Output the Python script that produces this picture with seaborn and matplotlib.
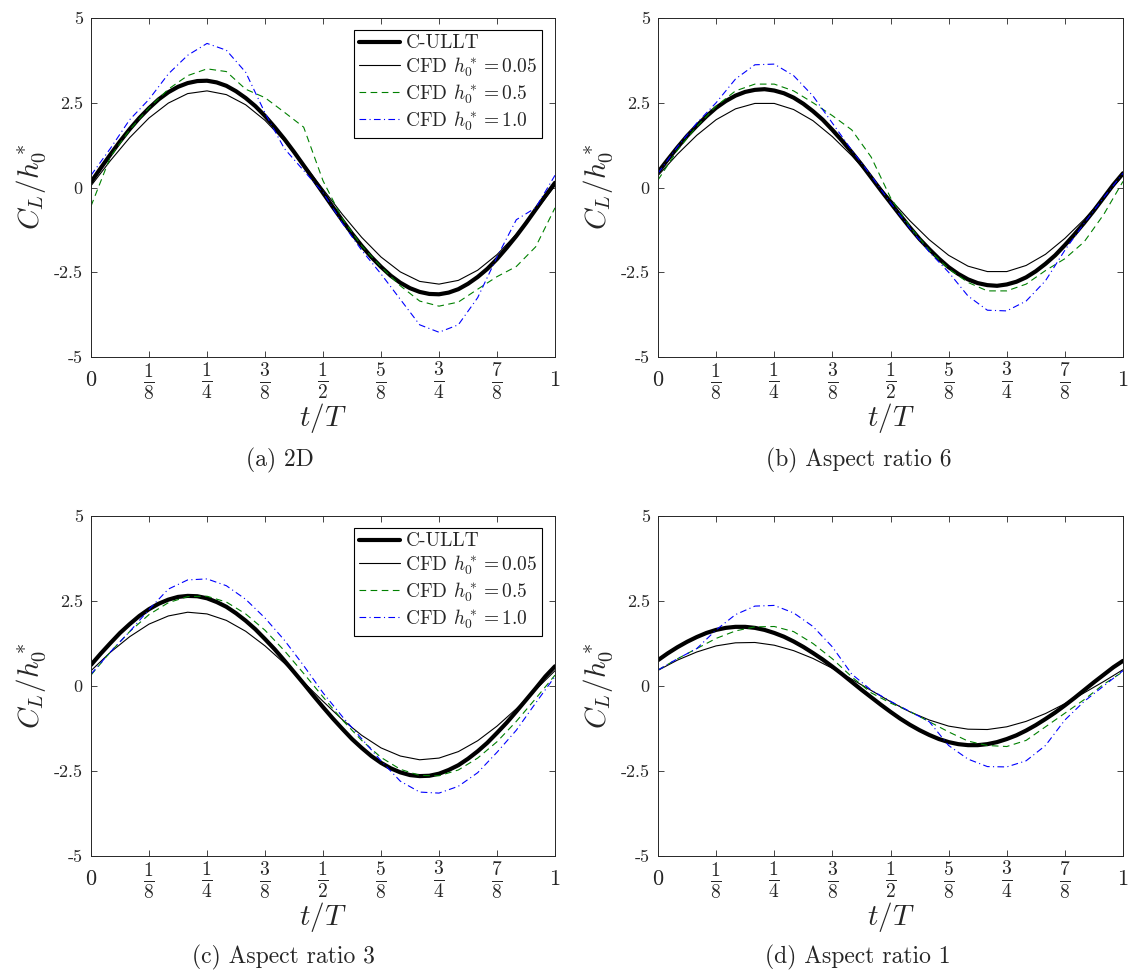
import numpy as np
import pandas as pd
import matplotlib
matplotlib.use("Agg")
import matplotlib.pyplot as plt
import seaborn as sns

# sample instants t/T: C-ULLT read every 1/48, CFD curves every 1/24
t_fine = np.linspace(0, 1, 49)
t_frac = np.linspace(0, 1, 25)

# (a) 2D
a_ullt = [0.16, 0.57, 0.97, 1.36, 1.72, 2.05, 2.34, 2.60, 2.81, 2.97, 3.08, 3.14, 3.15,
          3.10, 3.00, 2.84, 2.64, 2.40, 2.11, 1.78, 1.43, 1.05, 0.65, 0.25, -0.16,
          -0.57, -0.97, -1.36, -1.72, -2.05, -2.34, -2.60, -2.81, -2.97, -3.08, -3.14, -3.15,
          -3.10, -3.00, -2.84, -2.64, -2.40, -2.11, -1.78, -1.43, -1.05, -0.65, -0.25, 0.14]
a_h005 = [0.05, 0.79, 1.47, 2.05, 2.49, 2.77, 2.85, 2.74, 2.44, 1.98, 1.38, 0.69, -0.05,
          -0.79, -1.47, -2.05, -2.49, -2.77, -2.85, -2.74, -2.44, -1.98, -1.38, -0.69, 0.05]
a_h05 = [-0.55, 0.9, 1.7, 2.35, 2.9, 3.3, 3.5, 3.42, 2.9, 2.65, 2.22, 1.78, 0.2,
         -0.92, -1.72, -2.34, -2.9, -3.35, -3.5, -3.38, -3.0, -2.63, -2.33, -1.75, -0.6]
a_h10 = [0.36, 1.15, 2.0, 2.6, 3.35, 3.9, 4.25, 4.05, 3.4, 2.2, 1.15, 0.5, -0.15,
         -1.05, -1.85, -2.55, -3.3, -4.05, -4.27, -4.05, -3.25, -2.05, -0.95, -0.6, 0.36]

# (b) aspect ratio 6
b_ullt = [0.45, 0.82, 1.18, 1.52, 1.82, 2.10, 2.35, 2.55, 2.71, 2.82, 2.88, 2.90, 2.86,
          2.78, 2.65, 2.47, 2.25, 2.00, 1.70, 1.38, 1.04, 0.68, 0.30, -0.08, -0.45,
          -0.82, -1.18, -1.52, -1.82, -2.10, -2.35, -2.55, -2.71, -2.82, -2.88, -2.90, -2.86,
          -2.78, -2.65, -2.47, -2.25, -2.00, -1.70, -1.38, -1.04, -0.68, -0.30, 0.08, 0.42]
b_h005 = [0.35, 0.98, 1.54, 2.00, 2.32, 2.48, 2.48, 2.30, 1.97, 1.50, 0.94, 0.30, -0.35,
          -0.98, -1.54, -2.00, -2.32, -2.48, -2.48, -2.30, -1.97, -1.50, -0.94, -0.30, 0.35]
b_h05 = [0.22, 1.1, 1.8, 2.4, 2.85, 3.05, 3.05, 2.85, 2.5, 2.12, 1.7, 0.9, -0.3,
         -1.15, -1.85, -2.4, -2.8, -3.05, -3.05, -2.85, -2.45, -2.1, -1.6, -0.8, 0.18]
b_h10 = [0.42, 1.2, 1.9, 2.5, 3.2, 3.62, 3.64, 3.3, 2.7, 1.9, 1.1, 0.35, -0.45,
         -1.2, -1.9, -2.5, -3.2, -3.62, -3.64, -3.35, -2.75, -1.85, -1.05, -0.3, 0.42]

# (c) aspect ratio 3
c_ullt = [0.62, 0.95, 1.26, 1.56, 1.82, 2.06, 2.26, 2.42, 2.54, 2.62, 2.65, 2.64, 2.58,
          2.47, 2.33, 2.14, 1.92, 1.67, 1.38, 1.08, 0.75, 0.41, 0.07, -0.28, -0.62,
          -0.95, -1.26, -1.56, -1.82, -2.06, -2.26, -2.42, -2.54, -2.62, -2.65, -2.64, -2.58,
          -2.47, -2.33, -2.14, -1.92, -1.67, -1.38, -1.08, -0.75, -0.41, -0.07, 0.28, 0.58]
c_h005 = [0.45, 0.99, 1.45, 1.82, 2.06, 2.17, 2.12, 1.93, 1.61, 1.18, 0.67, 0.11, -0.45,
          -0.99, -1.45, -1.82, -2.06, -2.17, -2.12, -1.93, -1.61, -1.18, -0.67, -0.11, 0.45]
c_h05 = [0.32, 1.0, 1.60, 2.10, 2.45, 2.63, 2.64, 2.47, 2.12, 1.64, 1.04, 0.37, -0.32,
         -1.0, -1.60, -2.10, -2.45, -2.63, -2.64, -2.47, -2.12, -1.64, -1.04, -0.37, 0.32]
c_h10 = [0.35, 1.0, 1.6, 2.25, 2.85, 3.12, 3.15, 2.95, 2.55, 2.0, 1.35, 0.6, -0.2,
         -0.9, -1.55, -2.2, -2.8, -3.12, -3.15, -2.95, -2.55, -1.95, -1.3, -0.5, 0.28]

# (d) aspect ratio 1
d_ullt = [0.76, 0.96, 1.14, 1.30, 1.44, 1.56, 1.65, 1.71, 1.74, 1.74, 1.71, 1.65, 1.56,
          1.45, 1.31, 1.15, 0.97, 0.78, 0.57, 0.35, 0.12, -0.11, -0.33, -0.55, -0.76,
          -0.96, -1.14, -1.30, -1.44, -1.56, -1.65, -1.71, -1.74, -1.74, -1.71, -1.65, -1.56,
          -1.45, -1.31, -1.15, -0.97, -0.78, -0.57, -0.35, -0.12, 0.11, 0.33, 0.55, 0.74]
d_h005 = [0.46, 0.76, 1.00, 1.18, 1.27, 1.28, 1.20, 1.04, 0.81, 0.52, 0.20, -0.13, -0.46,
          -0.76, -1.00, -1.18, -1.27, -1.28, -1.20, -1.04, -0.81, -0.52, -0.20, 0.13, 0.48]
d_h05 = [0.47, 0.8, 1.1, 1.4, 1.62, 1.74, 1.75, 1.6, 1.25, 0.8, 0.27, -0.2, -0.5,
         -0.75, -1.05, -1.35, -1.62, -1.75, -1.78, -1.6, -1.2, -0.8, -0.4, 0.05, 0.42]
d_h10 = [0.47, 0.8, 1.1, 1.65, 2.1, 2.35, 2.37, 2.15, 1.75, 1.15, 0.35, -0.12, -0.45,
         -0.75, -1.05, -1.75, -2.15, -2.37, -2.38, -2.2, -1.75, -1.0, -0.45, 0.0, 0.45]

series_labels = ["C-ULLT", r"CFD $h_0^*=0.05$", r"CFD $h_0^*=0.5$", r"CFD $h_0^*=1.0$"]
captions = ["(a) 2D", "(b) Aspect ratio 6", "(c) Aspect ratio 3", "(d) Aspect ratio 1"]
xtick_vals = [0, 1/8, 1/4, 3/8, 1/2, 5/8, 3/4, 7/8, 1]
xtick_text = ["0", r"$\frac{1}{8}$", r"$\frac{1}{4}$", r"$\frac{3}{8}$", r"$\frac{1}{2}$",
              r"$\frac{5}{8}$", r"$\frac{3}{4}$", r"$\frac{7}{8}$", "1"]
ytick_vals = [-5, -2.5, 0, 2.5, 5]
ytick_text = ["-5", "-2.5", "0", "2.5", "5"]

panels = [
    [a_ullt, a_h005, a_h05, a_h10],
    [b_ullt, b_h005, b_h05, b_h10],
    [c_ullt, c_h005, c_h05, c_h10],
    [d_ullt, d_h005, d_h05, d_h10],
]

# line styles per series: colour, width, linestyle
styles = [
    ("black", 3.0, "-"),
    ("black", 0.8, "-"),
    ((0, 0.5, 0), 0.8, (0, (6, 4))),
    ((0, 0, 1), 0.8, (0, (6, 3, 1, 3))),
]

sns.set_theme(style="ticks")
plt.rcParams["font.family"] = "serif"
plt.rcParams["font.serif"] = ["cmr10"]
plt.rcParams["mathtext.fontset"] = "cm"
plt.rcParams["axes.unicode_minus"] = False
plt.rcParams["axes.formatter.use_mathtext"] = True

W, H = 1134, 977
fig = plt.figure(figsize=(W / 100, H / 100), dpi=100)

# axes boxes in pixels: left, top, right, bottom
boxes = [(91, 18, 555, 357), (658, 18, 1123, 357),
         (91, 516, 555, 856), (658, 516, 1123, 856)]
cap_pos = [(280, 460), (859, 460), (283, 957), (858, 957)]

for i, (vals, box) in enumerate(zip(panels, boxes)):
    l, tp, r, b = box
    ax = fig.add_axes([l / W, 1 - b / H, (r - l) / W, (b - tp) / H])
    for y, lab, (col, lw, ls) in zip(vals, series_labels, styles):
        tx = t_fine if len(y) == len(t_fine) else t_frac
        sns.lineplot(x=tx, y=y, ax=ax, color=col, linewidth=lw,
                     linestyle=ls, label=lab, legend=False,
                     solid_joinstyle="round", dash_joinstyle="round")

    ax.set_xlim(0, 1)
    ax.set_ylim(-5, 5)
    ax.set_xticks(xtick_vals)
    ax.set_xticklabels(xtick_text)
    ax.set_yticks(ytick_vals)
    ax.set_yticklabels(ytick_text, fontsize=13)
    for lbl in ax.get_xticklabels():
        lbl.set_va("center")
        lbl.set_fontsize(16 if lbl.get_text() in ("0", "1") else 20)
    ax.tick_params(axis="both", direction="in", top=True, right=True,
                   length=4, width=0.6, color="#262626")
    ax.tick_params(axis="x", pad=17)
    ax.tick_params(axis="y", pad=6)
    for sp in ax.spines.values():
        sp.set_linewidth(0.7)
        sp.set_color("#262626")

    ax.set_xlabel(r"$t/T$", fontsize=21)
    ax.set_ylabel(r"$C_L/h_0^*$", fontsize=21)
    ax.xaxis.label.set_va("center")
    ax.yaxis.label.set_va("center")
    ax.xaxis.set_label_coords(0.5, -61 / (b - tp))
    ax.yaxis.set_label_coords(-60 / (r - l), 0.5)

    if i in (0, 2):
        leg = ax.legend(loc="upper right", bbox_to_anchor=(0.973, 0.966),
                        borderaxespad=0, fancybox=False, edgecolor="black",
                        framealpha=1, fontsize=14, handlelength=2.1,
                        handletextpad=0.3, labelspacing=0.15, borderpad=0.25)
        leg.get_frame().set_linewidth(0.8)

    cx, cy = cap_pos[i]
    fig.text(cx / W, 1 - cy / H, captions[i], ha="center", va="center", fontsize=17)

fig.savefig("out.png", dpi=100, facecolor="white")
